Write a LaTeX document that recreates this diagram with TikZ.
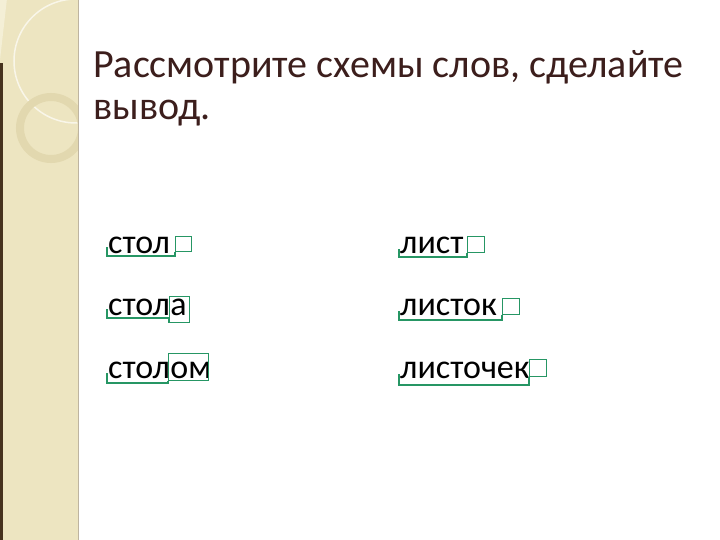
\documentclass[tikz,border=0pt]{standalone}
\usepackage{fontspec}
\setmainfont{Carlito}
\definecolor{beige}{RGB}{237,229,193}
\definecolor{beigelight}{RGB}{244,239,214}
\definecolor{ringc}{RGB}{226,216,175}
\definecolor{titlec}{RGB}{60,30,28}
\definecolor{schg}{RGB}{38,150,100}
\definecolor{edgec}{RGB}{70,50,30}
\definecolor{bordc}{RGB}{190,180,160}
\tikzset{
  word/.style={anchor=base west, inner sep=0pt, font=\fontsize{34}{34}\selectfont, text=black},
  ttl/.style={anchor=base west, inner sep=0pt, font=\fontsize{40}{40}\selectfont, text=titlec},
  endbox/.style={draw=schg, line width=1.3pt},
  stem/.style={draw=schg, line width=1.3pt},
}
\begin{document}
\begin{tikzpicture}[x=1pt,y=-1pt]
\useasboundingbox (0,0) rectangle (720,540);
\fill[white] (0,0) rectangle (720,540);
% sidebar
\fill[beige] (0,0) rectangle (78,540);
\begin{scope}
\clip (0,0) rectangle (78,540);
\fill[beigelight] (0,0) -- (65,0) arc[start angle=100, end angle=180, radius=62] -- (0,60) -- cycle;
\fill[edgec] (0,63) rectangle (2.5,540);
\draw[white!65!beige, line width=1.5pt] (76,61) circle[radius=62];
\draw[ringc, line width=8pt] (51,128) circle[radius=31];
\end{scope}
\draw[bordc, line width=1pt] (78,0) -- (78,540);
% title
\node[ttl] (t1) at (93,78) {Рассмотрите схемы слов, сделайте};
\node[ttl] (t2) at (93,120) {вывод.};
% left column
\node[word] (w1) at (108,253) {стол};
\node[endbox, minimum width=16pt, minimum height=15pt, inner sep=0pt, anchor=north west] (e1) at (175,236) {};
\draw[stem] (107,247) -- (107,256) -- (e1.south west|-0,256) -- (e1.south west);

\node[word] (w2) at (108,315) {стол};
\node[word, anchor=base west] (a2) at (w2.base east) {а};
\node[endbox, inner sep=0pt, minimum height=26pt, minimum width=20pt, anchor=north west] (e2) at (169,296) {};
\draw[stem] (107,309) -- (107,318) -- (e2.south west|-0,318) -- (e2.south west);

\node[word] (w3) at (108,378) {стол};
\node[word, anchor=base west] (a3) at (w3.base east) {ом};
\node[endbox, inner sep=0pt, minimum height=27pt, minimum width=40pt, anchor=north west] (e3) at (168,353) {};
\draw[stem] (107,373) -- (107,383) -- (e3.south west|-0,383) -- (e3.south west);

% right column
\node[word] (w4) at (400,253) {лист};
\node[endbox, minimum width=17pt, minimum height=16pt, inner sep=0pt, anchor=north west] (e4) at (467,236) {};
\draw[stem] (399,249) -- (399,257) -- (e4.south west|-0,257) -- (e4.south west);

\node[word] (w5) at (400,315) {листок};
\node[endbox, minimum width=17pt, minimum height=16pt, inner sep=0pt, anchor=north west] (e5) at (502,298) {};
\draw[stem] (399,311) -- (399,320) -- (e5.south west|-0,320) -- (e5.south west);

\node[word] (w6) at (400,378) {листочек};
\node[endbox, minimum width=17pt, minimum height=17pt, inner sep=0pt, anchor=north west] (e6) at (529,359) {};
\draw[stem] (399,374) -- (399,385) -- (e6.south west|-0,385) -- (e6.south west);
\end{tikzpicture}
\end{document}
